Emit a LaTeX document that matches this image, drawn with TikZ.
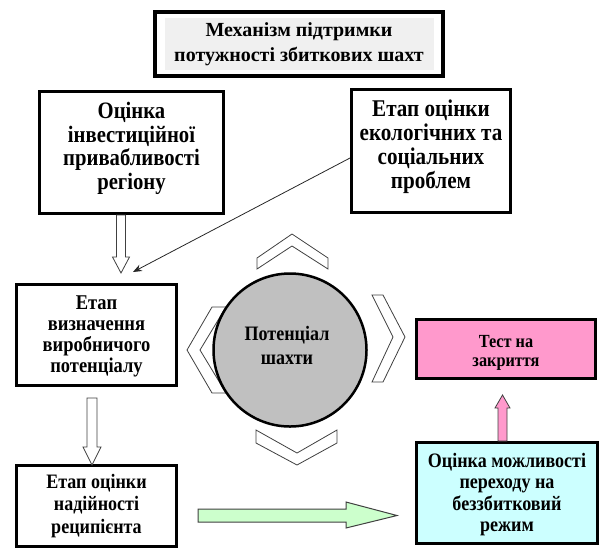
\documentclass[tikz,border=0pt]{standalone}
\usepackage{fontspec}
\setmainfont{Liberation Serif}
\newfontfamily\tallfont[FakeStretch=0.88]{Liberation Serif}
\usetikzlibrary{calc,arrows.meta}
\definecolor{pinkbox}{HTML}{FF99CC}
\definecolor{cyanbox}{HTML}{CCFFFF}
\definecolor{greenarrow}{HTML}{CCFFCC}
\definecolor{circlegrey}{HTML}{C0C0C0}
\definecolor{titlegrey}{HTML}{F0F0F0}
\definecolor{edgegrey}{HTML}{404040}
\begin{document}
\begin{tikzpicture}[x=1pt,y=-1pt,
  box/.style={draw=black, line width=3pt, fill=white, inner sep=0pt},
  boxtext/.style={align=center, inner sep=0pt},
  chev/.style={draw=edgegrey, line width=0.8pt, fill=white, line join=miter},
  blk/.style={draw=edgegrey, line width=0.8pt, fill=white, line join=miter}]
\useasboundingbox (0,0) rectangle (601,550);

% title
\node[draw=black, line width=4pt, fill=white, minimum width=288pt, minimum height=64pt] (title) at (299,44) {};
\node[fill=titlegrey, minimum width=269pt, minimum height=52pt, align=center, inner sep=0pt,
  font=\bfseries\fontsize{20}{25}\selectfont] (titletext) at (title.center)
  {Механізм підтримки\\потужності збиткових шахт};

% boxes
\node[box, minimum width=184pt, minimum height=122pt] (invest) at (131.5,152.5) {};
\node[boxtext, font=\tallfont\bfseries\fontsize{23.5}{23.5}\selectfont] (investtext) at ($(invest.center)+(0,-4)$)
  {Оцінка\\інвестиційної\\привабливості\\регіону};
\node[box, minimum width=159pt, minimum height=123pt] (ecol) at (431,151) {};
\node[boxtext, font=\tallfont\bfseries\fontsize{24}{24}\selectfont] (ecoltext) at ($(ecol.center)+(0,-4)$)
  {Етап оцінки\\екологічних та\\соціальних\\проблем};
\node[box, minimum width=160pt, minimum height=101pt] (prod) at (96.5,335) {};
\node[boxtext, font=\tallfont\bfseries\fontsize{21}{21}\selectfont] (prodtext) at ($(prod.center)+(0,1)$)
  {Етап\\визначення\\виробничого\\потенціалу};
\node[box, minimum width=160pt, minimum height=81pt] (recip) at (96.5,506) {};
\node[boxtext, font=\tallfont\bfseries\fontsize{20.5}{22.5}\selectfont] (reciptext) at ($(recip.center)+(0,0)$)
  {Етап оцінки\\надійності\\реципієнта};
\node[box, fill=pinkbox, minimum width=179pt, minimum height=59pt] (test) at (506,349) {};
\node[boxtext, font=\tallfont\bfseries\fontsize{18.5}{19}\selectfont] (testtext) at ($(test.center)+(0,4)$)
  {Тест на\\закриття};
\node[box, fill=cyanbox, minimum width=181pt, minimum height=101pt] (breakeven) at (507,493) {};
\node[boxtext, font=\tallfont\bfseries\fontsize{20.5}{21.5}\selectfont] (breakeventext) at ($(breakeven.center)+(0,1.5)$)
  {Оцінка можливості\\переходу на\\беззбитковий\\режим};

% chevrons around the circle
\draw[chev] (257,258) -- (292,234) -- (328,258) -- (328,269) -- (292,246) -- (257,269) -- cycle;
\draw[chev] (256,430) -- (297,453) -- (337,430) -- (337,443) -- (297,465) -- (256,443) -- cycle;
\draw[chev] (372,295) -- (383,295) -- (405,337) -- (383,382) -- (372,382) -- (393,337) -- cycle;
\draw[chev] (212,307) -- (226,307) -- (200,350) -- (226,393) -- (212,393) -- (187,350) -- cycle;

% circle
\node[circle, draw=black, line width=2.5pt, fill=circlegrey, minimum size=153pt, inner sep=0pt] (core) at (290,350) {};
\node[boxtext, font=\tallfont\bfseries\fontsize{20.5}{24}\selectfont] (coretext) at (287,345)
  {Потенціал\\шахти};

% connectors
\coordinate (a1s) at (invest.south -| 121,0);
\coordinate (a1e) at (121,273);
\draw[blk] ($(a1s)+(-4.5,0)$) -- ($(a1e)+(-4.5,-16)$) -- ($(a1e)+(-8.5,-16)$) -- (a1e)
  -- ($(a1e)+(8.5,-16)$) -- ($(a1e)+(4.5,-16)$) -- ($(a1s)+(4.5,0)$) -- cycle;

\coordinate (a2s) at (92,398);
\coordinate (a2e) at (92,465);
\draw[blk] ($(a2s)+(-5,0)$) -- ($(a2e)+(-5,-18)$) -- ($(a2e)+(-9,-18)$) -- (a2e)
  -- ($(a2e)+(9,-18)$) -- ($(a2e)+(5,-18)$) -- ($(a2s)+(5,0)$) -- cycle;

\coordinate (a3s) at (breakeven.north -| 502.5,0);
\coordinate (a3e) at (502.5,395);
\draw[blk, fill=pinkbox] ($(a3s)+(-4.5,0)$) -- ($(a3e)+(-4.5,13)$) -- ($(a3e)+(-7.5,13)$) -- (a3e)
  -- ($(a3e)+(7.5,13)$) -- ($(a3e)+(4.5,13)$) -- ($(a3s)+(4.5,0)$) -- cycle;

\coordinate (a4s) at (198,515.5);
\coordinate (a4e) at (397,515.5);
\draw[blk, fill=greenarrow, line width=1pt] ($(a4s)+(0,-6.5)$) -- ($(a4e)+(-51,-6.5)$) -- ($(a4e)+(-51,-13.5)$) -- (a4e)
  -- ($(a4e)+(-51,12.5)$) -- ($(a4e)+(-51,6.5)$) -- ($(a4s)+(0,6.5)$) -- cycle;

\coordinate (a5e) at (133,272);
\draw[black!85, line width=0.8pt, -{Stealth[length=9pt, width=7pt]}] (ecol.west |- 0,158) -- (a5e);
\end{tikzpicture}
\end{document}
